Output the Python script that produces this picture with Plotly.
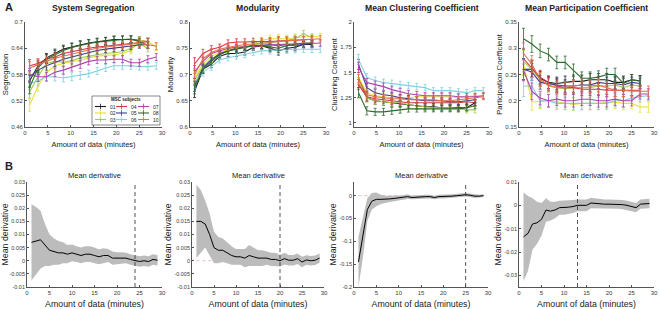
import plotly.graph_objects as go

# ---------------- data ----------------
SUBJECTS = ["01", "02", "03", "04", "05", "06", "07", "08", "10"]
COLORS = {"01": "#1a1a1a", "02": "#e8e030", "03": "#9ccc50", "04": "#d8343c",
          "05": "#3c3c8c", "06": "#80d0e0", "07": "#b040b0", "08": "#2d6a2d",
          "10": "#e0704c"}

MINUTES = [1.0, 2.85, 4.7, 6.55, 8.4, 10.25, 12.1, 13.95, 15.8, 17.65, 19.5,
           21.35, 23.2, 25.05, 26.9, 28.75]

SEGREGATION = {
    "01": [0.565, 0.600, 0.618, 0.628, 0.638, 0.643, 0.648, 0.652, 0.655, 0.657, 0.660, 0.660, 0.660, 0.658, 0.655],
    "02": [0.510, 0.553, 0.585, 0.600, 0.605, 0.610, 0.612, 0.618, 0.622, 0.623, 0.625, 0.628, 0.635, 0.658, 0.655, 0.643],
    "03": [0.540, 0.575, 0.605, 0.610, 0.608, 0.612, 0.618, 0.622, 0.625, 0.628, 0.630, 0.632, 0.640, 0.650, 0.640],
    "04": [0.600, 0.605, 0.615, 0.620, 0.628, 0.632, 0.637, 0.640, 0.643, 0.645, 0.648, 0.650, 0.652, 0.653, 0.655],
    "05": [0.575, 0.590, 0.600, 0.608, 0.615, 0.620, 0.625, 0.630, 0.635, 0.638, 0.640, 0.643, 0.645, 0.648, 0.648],
    "06": [0.560, 0.565, 0.575, 0.575, 0.572, 0.575, 0.578, 0.582, 0.588, 0.595, 0.600, 0.600, 0.600, 0.598, 0.598, 0.600],
    "07": [0.580, 0.575, 0.575, 0.585, 0.590, 0.597, 0.603, 0.610, 0.613, 0.613, 0.615, 0.615, 0.607, 0.607, 0.615, 0.620],
    "08": [0.550, 0.595, 0.615, 0.625, 0.635, 0.642, 0.647, 0.651, 0.654, 0.656, 0.659, 0.660, 0.661, 0.655, 0.647],
    "10": [0.595, 0.603, 0.610, 0.617, 0.622, 0.627, 0.632, 0.636, 0.640, 0.643, 0.645, 0.647, 0.650, 0.652, 0.648, 0.645],
}
MODULARITY = {
    "01": [0.668, 0.710, 0.720, 0.735, 0.740, 0.740, 0.743, 0.752, 0.755, 0.750, 0.745, 0.750, 0.752, 0.757, 0.757],
    "02": [0.695, 0.720, 0.735, 0.742, 0.748, 0.752, 0.755, 0.758, 0.765, 0.768, 0.768, 0.768, 0.770, 0.772, 0.772, 0.772],
    "03": [0.690, 0.715, 0.730, 0.738, 0.745, 0.750, 0.753, 0.757, 0.758, 0.760, 0.762, 0.765, 0.768, 0.778, 0.770],
    "04": [0.720, 0.740, 0.748, 0.752, 0.760, 0.762, 0.762, 0.763, 0.763, 0.763, 0.764, 0.764, 0.765, 0.766, 0.767],
    "05": [0.680, 0.712, 0.728, 0.740, 0.745, 0.750, 0.752, 0.755, 0.755, 0.757, 0.755, 0.757, 0.755, 0.757, 0.760],
    "06": [0.685, 0.705, 0.715, 0.728, 0.732, 0.735, 0.738, 0.742, 0.745, 0.746, 0.747, 0.747, 0.748, 0.748, 0.748, 0.748],
    "07": [0.705, 0.725, 0.740, 0.745, 0.750, 0.752, 0.753, 0.755, 0.755, 0.756, 0.757, 0.758, 0.758, 0.758, 0.759, 0.760],
    "08": [0.675, 0.710, 0.725, 0.738, 0.745, 0.748, 0.752, 0.755, 0.755, 0.752, 0.750, 0.755, 0.758, 0.760, 0.760],
    "10": [0.700, 0.730, 0.742, 0.748, 0.752, 0.755, 0.757, 0.758, 0.760, 0.762, 0.763, 0.764, 0.765, 0.767, 0.768, 0.768],
}
CLUSTERING = {
    "01": [1.45, 1.25, 1.22, 1.21, 1.20, 1.19, 1.18, 1.17, 1.16, 1.16, 1.15, 1.15, 1.15, 1.15, 1.20],
    "02": [1.45, 1.30, 1.27, 1.26, 1.25, 1.25, 1.25, 1.26, 1.26, 1.26, 1.26, 1.26, 1.25, 1.26, 1.27, 1.27],
    "03": [1.40, 1.25, 1.22, 1.21, 1.20, 1.20, 1.18, 1.17, 1.16, 1.15, 1.15, 1.15, 1.14, 1.13, 1.13],
    "04": [1.38, 1.26, 1.24, 1.23, 1.22, 1.21, 1.20, 1.20, 1.20, 1.20, 1.20, 1.20, 1.20, 1.21, 1.20],
    "05": [1.58, 1.35, 1.30, 1.28, 1.27, 1.25, 1.24, 1.23, 1.22, 1.22, 1.22, 1.21, 1.21, 1.22, 1.23],
    "06": [1.63, 1.45, 1.42, 1.40, 1.39, 1.38, 1.37, 1.36, 1.35, 1.32, 1.32, 1.32, 1.31, 1.30, 1.32, 1.32],
    "07": [1.55, 1.40, 1.38, 1.36, 1.33, 1.31, 1.29, 1.28, 1.27, 1.27, 1.27, 1.27, 1.26, 1.26, 1.26, 1.27],
    "08": [1.30, 1.12, 1.11, 1.11, 1.12, 1.13, 1.14, 1.14, 1.14, 1.14, 1.14, 1.14, 1.14, 1.15, 1.17],
    "10": [1.43, 1.28, 1.26, 1.25, 1.24, 1.24, 1.23, 1.23, 1.23, 1.23, 1.22, 1.22, 1.23, 1.24, 1.25, 1.26],
}
PARTICIPATION = {
    "01": [0.260, 0.260, 0.243, 0.235, 0.233, 0.235, 0.237, 0.237, 0.240, 0.240, 0.240, 0.235, 0.235, 0.240, 0.238],
    "02": [0.270, 0.198, 0.198, 0.200, 0.198, 0.195, 0.193, 0.195, 0.195, 0.195, 0.197, 0.197, 0.195, 0.195, 0.188, 0.188],
    "03": [0.275, 0.260, 0.240, 0.228, 0.225, 0.223, 0.225, 0.225, 0.225, 0.228, 0.228, 0.230, 0.225, 0.230, 0.228],
    "04": [0.280, 0.262, 0.245, 0.235, 0.228, 0.225, 0.225, 0.222, 0.222, 0.222, 0.220, 0.220, 0.220, 0.220, 0.220],
    "05": [0.260, 0.255, 0.235, 0.232, 0.230, 0.228, 0.228, 0.230, 0.230, 0.235, 0.233, 0.233, 0.230, 0.235, 0.233],
    "06": [0.228, 0.228, 0.200, 0.200, 0.195, 0.195, 0.195, 0.195, 0.195, 0.195, 0.195, 0.200, 0.200, 0.205, 0.208, 0.210],
    "07": [0.258, 0.218, 0.205, 0.200, 0.203, 0.200, 0.200, 0.203, 0.203, 0.200, 0.200, 0.203, 0.200, 0.200, 0.213, 0.213],
    "08": [0.318, 0.308, 0.295, 0.288, 0.273, 0.273, 0.258, 0.243, 0.243, 0.245, 0.250, 0.250, 0.233, 0.240, 0.237],
    "10": [0.290, 0.270, 0.240, 0.230, 0.225, 0.225, 0.228, 0.230, 0.228, 0.230, 0.225, 0.220, 0.220, 0.218, 0.218, 0.218],
}
SEG_ERR = [0.014, 0.011, 0.010, 0.010, 0.009, 0.009, 0.009, 0.008, 0.008, 0.008, 0.008, 0.008, 0.008, 0.008, 0.008, 0.008]
MOD_ERR = [0.012, 0.008, 0.007, 0.006, 0.006, 0.006, 0.006, 0.006, 0.006, 0.007, 0.008, 0.007, 0.007, 0.006, 0.006, 0.006]
CLU_ERR = [0.050, 0.040, 0.035, 0.035, 0.035, 0.033, 0.032, 0.032, 0.030, 0.030, 0.030, 0.030, 0.030, 0.030, 0.030, 0.030]
PC_ERR = [0.020, 0.016, 0.013, 0.012, 0.012, 0.012, 0.012, 0.012, 0.012, 0.012, 0.012, 0.012, 0.012, 0.010, 0.010, 0.010]

DERIV_MINUTES = list(range(1, 30))
SEG_DERIV = [0.007, 0.0075, 0.008, 0.006, 0.004, 0.0035, 0.003, 0.003, 0.0025, 0.003,
             0.0025, 0.002, 0.0025, 0.0025, 0.002, 0.0015, 0.002, 0.002, 0.001, 0.001,
             0.001, 0.001, 0.0005, 0.0, -0.0003, 0.0, -0.0003, 0.0005, 0.0002]
SEG_DERIV_SD = [0.0145, 0.013, 0.011, 0.008, 0.006, 0.005, 0.0045, 0.004, 0.0035, 0.0032,
                0.003, 0.003, 0.003, 0.003, 0.003, 0.0028, 0.0028, 0.0025, 0.0025, 0.0022,
                0.0022, 0.002, 0.002, 0.002, 0.002, 0.002, 0.002, 0.002, 0.002]
MOD_DERIV = [0.015, 0.015, 0.014, 0.010, 0.005, 0.004, 0.004, 0.003, 0.002, 0.0015,
             0.0015, 0.001, 0.002, 0.0015, 0.001, 0.001, 0.001, 0.0005, 0.0005, 0.0,
             0.0008, 0.0002, 0.0002, 0.0008, -0.0005, 0.0003, 0.0, 0.0002, 0.001]
MOD_DERIV_SD = [0.014, 0.012, 0.009, 0.008, 0.006, 0.005, 0.0045, 0.004, 0.0035, 0.003,
                0.003, 0.0035, 0.004, 0.0035, 0.003, 0.003, 0.0025, 0.0025, 0.0025, 0.0022,
                0.0022, 0.002, 0.002, 0.002, 0.002, 0.0018, 0.0018, 0.0018, 0.0018]
CLU_DERIV = [-0.145, -0.09, -0.03, -0.012, -0.008, -0.008, -0.008, -0.007, -0.006, -0.005,
             -0.004, -0.002, -0.004, -0.003, -0.002, -0.002, -0.002, -0.004, -0.002, -0.002,
             -0.002, -0.001, 0.0, 0.001, 0.002, 0.001, -0.001, -0.001, 0.0]
CLU_DERIV_SD = [0.055, 0.045, 0.025, 0.018, 0.015, 0.010, 0.008, 0.007, 0.006, 0.005,
                0.005, 0.005, 0.004, 0.004, 0.004, 0.004, 0.004, 0.004, 0.004, 0.004,
                0.004, 0.004, 0.004, 0.004, 0.004, 0.004, 0.004, 0.003, 0.003]
PC_DERIV = [-0.0135, -0.012, -0.008, -0.0075, -0.006, -0.002, -0.0025, -0.002, -0.001, -0.001,
            -0.0008, -0.0005, 0.0, 0.0, 0.0, 0.001, 0.0008, 0.0005, 0.0005, 0.0005,
            0.0005, 0.0005, 0.0003, 0.0, -0.0005, -0.001, 0.0005, 0.0008, 0.0008]
PC_DERIV_SD = [0.019, 0.016, 0.011, 0.009, 0.007, 0.005, 0.004, 0.0035, 0.003, 0.003,
               0.003, 0.0028, 0.0025, 0.0025, 0.0025, 0.0022, 0.0022, 0.002, 0.002, 0.002,
               0.002, 0.002, 0.002, 0.002, 0.002, 0.002, 0.002, 0.002, 0.002]
STABLE_AT = [24, 20, 25, 13]

TOP_TITLES = ["System Segregation", "Modularity", "Mean Clustering Coefficient",
              "Mean Participation Coefficient"]
TOP_YLABELS = ["Segregation", "Modularity", "Clustering Coefficient", "Participation Coefficient"]
TOP_YTICKS = [[0.46, 0.52, 0.58, 0.64, 0.7], [0.6, 0.65, 0.7, 0.75, 0.8],
              [1, 1.25, 1.5, 1.75, 2], [0.15, 0.2, 0.25, 0.3, 0.35]]
TOP_YTICKTEXT = [["0.46", "0.52", "0.58", "0.64", "0.7"], ["0.6", "0.65", "0.7", "0.75", "0.8"],
                 ["1", "1.25", "1.5", "1.75", "2"], ["0.15", "0.2", "0.25", "0.3", "0.35"]]
TOP_YRANGE = [[0.46, 0.70], [0.6, 0.8], [0.96, 2.0], [0.15, 0.35]]
BOT_YTICKS = [[-0.01, -0.005, 0, 0.005, 0.01, 0.015, 0.02, 0.025, 0.03],
              [-0.01, -0.005, 0, 0.005, 0.01, 0.015, 0.02, 0.025, 0.03],
              [-0.2, -0.15, -0.1, -0.05, 0],
              [-0.03, -0.02, -0.01, 0, 0.01]]
BOT_YTICKTEXT = [["-0.01", "-0.005", "0", "0.005", "0.01", "0.015", "0.02", "0.025", "0.03"],
                 ["-0.01", "-0.005", "0", "0.005", "0.01", "0.015", "0.02", "0.025", "0.03"],
                 ["-0.2", "-0.15", "-0.1", "-0.05", "0"],
                 ["-0.03", "-0.02", "-0.01", "0", "0.01"]]
BOT_YRANGE = [[-0.01, 0.03], [-0.01, 0.03], [-0.2, 0.03], [-0.035, 0.01]]
XTICKS = [0, 5, 10, 15, 20, 25, 30]

# ---------------- layout helpers ----------------
W, H = 660, 309
FONT = "Liberation Sans, Arial, sans-serif"
TXT = "#222222"


def px_x(v):
    return v / W


def px_y(v):
    return 1 - v / H


TOP_XPX = [(25, 162), (190, 326), (354, 489), (519, 654)]
BOT_XPX = [(27, 162), (192, 324), (354, 488), (519, 654)]
TOP_YPX = (22, 127)
BOT_YPX = (182, 287)

fig = go.Figure()
layout = dict(template="none", width=W, height=H, margin=dict(l=0, r=0, t=0, b=0),
              paper_bgcolor="white", plot_bgcolor="white", showlegend=False,
              font=dict(family=FONT, color=TXT))
annotations = []
shapes = []

metrics = [(SEGREGATION, SEG_ERR), (MODULARITY, MOD_ERR), (CLUSTERING, CLU_ERR),
           (PARTICIPATION, PC_ERR)]
derivs = [(SEG_DERIV, SEG_DERIV_SD), (MOD_DERIV, MOD_DERIV_SD),
          (CLU_DERIV, CLU_DERIV_SD), (PC_DERIV, PC_DERIV_SD)]


def axis_style(domain, rng, tickvals, ticktext, title, fs_tick, fs_title, standoff):
    return dict(domain=domain, range=rng, tickvals=tickvals, ticktext=ticktext,
                showline=True, linecolor="#555555", linewidth=0.8, ticks="inside",
                ticklen=2, tickwidth=0.8, tickcolor="#555555", showgrid=False, zeroline=False,
                ticklabeloverflow="allow", automargin=False,
                tickfont=dict(size=fs_tick, color="#3a3a3a", family=FONT),
                title=dict(text=title, font=dict(size=fs_title, color=TXT, family=FONT),
                           standoff=standoff))


for i in range(4):
    n = i + 1
    xa, ya = ("x" if n == 1 else f"x{n}"), ("y" if n == 1 else f"y{n}")
    data, err = metrics[i]
    for s in SUBJECTS:
        vals = data[s]
        fig.add_trace(go.Scatter(
            x=MINUTES[:len(vals)], y=vals, mode="lines", xaxis=xa, yaxis=ya,
            line=dict(color=COLORS[s], width=1.1), name=s,
            error_y=dict(type="data", array=err[:len(vals)], color=COLORS[s],
                         thickness=0.8, width=1.5)))
    xd = [px_x(TOP_XPX[i][0]), px_x(TOP_XPX[i][1])]
    yd = [px_y(TOP_YPX[1]), px_y(TOP_YPX[0])]
    key = "" if n == 1 else str(n)
    layout[f"xaxis{key}"] = axis_style(
        xd, [0, 30], XTICKS, [str(t) for t in XTICKS], "Amount of data (minutes)", 6, 7.5, 6)
    layout[f"xaxis{key}"]["anchor"] = ya
    layout[f"yaxis{key}"] = axis_style(
        yd, TOP_YRANGE[i], TOP_YTICKS[i], TOP_YTICKTEXT[i], TOP_YLABELS[i], 6, 7.7, 1)
    layout[f"yaxis{key}"]["anchor"] = xa
    annotations.append(dict(text=f"<b>{TOP_TITLES[i]}</b>", xref="paper", yref="paper",
                            x=sum(xd) / 2, y=px_y(8), xanchor="center", yanchor="middle",
                            showarrow=False, font=dict(size=8.6, color=TXT, family=FONT)))

for i in range(4):
    n = i + 5
    xa, ya = f"x{n}", f"y{n}"
    mean, sd = derivs[i]
    upper = [m + d for m, d in zip(mean, sd)]
    lower = [m - d for m, d in zip(mean, sd)]
    fig.add_trace(go.Scatter(x=[DERIV_MINUTES[0], DERIV_MINUTES[-1]], y=[0, 0], mode="lines",
                             xaxis=xa, yaxis=ya, line=dict(color="#f2a8a8", width=0.8, dash="dot"),
                             hoverinfo="skip"))
    fig.add_trace(go.Scatter(x=DERIV_MINUTES + DERIV_MINUTES[::-1], y=upper + lower[::-1],
                             mode="lines", fill="toself", fillcolor="#bcbcbc",
                             line=dict(width=0), xaxis=xa, yaxis=ya, hoverinfo="skip"))
    fig.add_trace(go.Scatter(x=DERIV_MINUTES, y=mean, mode="lines", xaxis=xa, yaxis=ya,
                             line=dict(color="black", width=1)))
    xd = [px_x(BOT_XPX[i][0]), px_x(BOT_XPX[i][1])]
    yd = [px_y(BOT_YPX[1]), px_y(BOT_YPX[0])]
    layout[f"xaxis{n}"] = axis_style(xd, [0, 30], XTICKS, [str(t) for t in XTICKS],
                                     "Amount of data (minutes)", 6, 8.8, 7)
    layout[f"xaxis{n}"]["anchor"] = ya
    layout[f"yaxis{n}"] = axis_style(yd, BOT_YRANGE[i], BOT_YTICKS[i], BOT_YTICKTEXT[i],
                                     "Mean derivative", 5.5, 8.8, 1)
    layout[f"yaxis{n}"]["anchor"] = xa
    shapes.append(dict(type="line", xref=xa, yref=f"{ya} domain", x0=STABLE_AT[i],
                       x1=STABLE_AT[i], y0=0, y1=1,
                       line=dict(color="#404040", width=0.9, dash="4px,3px")))
    annotations.append(dict(text="Mean derivative", xref="paper", yref="paper",
                            x=sum(xd) / 2, y=px_y(175), xanchor="center", yanchor="middle",
                            showarrow=False, font=dict(size=7.5, color=TXT, family=FONT)))

# panel letters
annotations.append(dict(text="<b>A</b>", xref="paper", yref="paper", x=px_x(3), y=px_y(7),
                        xanchor="left", yanchor="middle", showarrow=False,
                        font=dict(size=11, color=TXT, family=FONT)))
annotations.append(dict(text="<b>B</b>", xref="paper", yref="paper", x=px_x(3), y=px_y(166),
                        xanchor="left", yanchor="middle", showarrow=False,
                        font=dict(size=11, color=TXT, family=FONT)))

# legend (drawn in paper coordinates inside panel 1)
LEG_BOX = (92, 96, 160, 125)
shapes.append(dict(type="rect", xref="paper", yref="paper", x0=px_x(LEG_BOX[0]),
                   x1=px_x(LEG_BOX[2]), y0=px_y(LEG_BOX[3]), y1=px_y(LEG_BOX[1]),
                   line=dict(color="#555555", width=0.7), fillcolor="white"))
annotations.append(dict(text="<b>MSC subjects</b>", xref="paper", yref="paper",
                        x=px_x((LEG_BOX[0] + LEG_BOX[2]) / 2), y=px_y(100), xanchor="center",
                        yanchor="middle", showarrow=False,
                        font=dict(size=4.5, color=TXT, family=FONT)))
col_x = [95, 116, 138]
row_y = [106.5, 113, 119.5]
for k, s in enumerate(SUBJECTS):
    c, r = k // 3, k % 3
    x0, y0 = col_x[c], row_y[r]
    shapes.append(dict(type="line", xref="paper", yref="paper", x0=px_x(x0), x1=px_x(x0 + 11),
                       y0=px_y(y0), y1=px_y(y0), line=dict(color=COLORS[s], width=1.1)))
    shapes.append(dict(type="line", xref="paper", yref="paper", x0=px_x(x0 + 5.5),
                       x1=px_x(x0 + 5.5), y0=px_y(y0 - 2.8), y1=px_y(y0 + 2.8),
                       line=dict(color=COLORS[s], width=0.8)))
    annotations.append(dict(text=s, xref="paper", yref="paper", x=px_x(x0 + 12.5), y=px_y(y0),
                            xanchor="left", yanchor="middle", showarrow=False,
                            font=dict(size=5, color=TXT, family=FONT)))

layout["annotations"] = annotations
layout["shapes"] = shapes
fig.update_layout(**layout)
fig.write_html("out.html", config={"displayModeBar": False},
               post_script="document.body.style.margin='0';document.body.style.overflow='hidden';")
